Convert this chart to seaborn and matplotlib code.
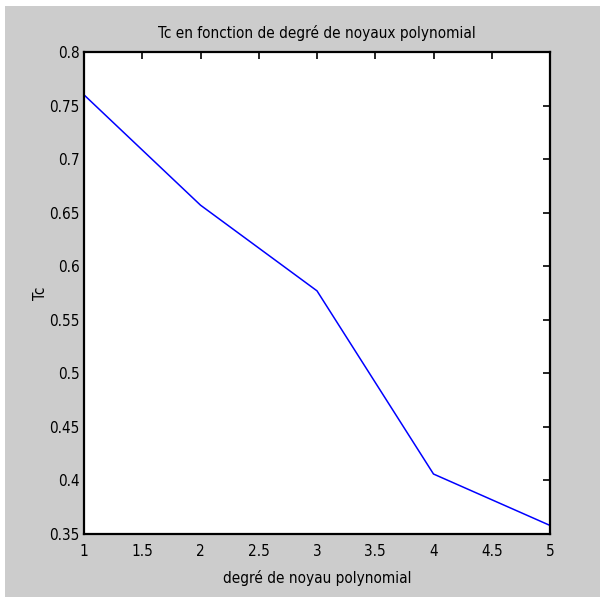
import matplotlib
matplotlib.use("Agg")
import matplotlib.pyplot as plt
from matplotlib.patches import Rectangle
from matplotlib import font_manager
import seaborn as sns
import pandas as pd

# Polynomial kernel degree vs Tc
degree = [1, 2, 3, 4, 5]
tc = [0.760, 0.657, 0.577, 0.406, 0.358]

x_ticks = [1, 1.5, 2, 2.5, 3, 3.5, 4, 4.5, 5]
x_tick_labels = ["1", "1.5", "2", "2.5", "3", "3.5", "4", "4.5", "5"]
y_ticks = [0.35, 0.4, 0.45, 0.5, 0.55, 0.6, 0.65, 0.7, 0.75, 0.8]
y_tick_labels = ["0.35", "0.4", "0.45", "0.5", "0.55", "0.6", "0.65", "0.7", "0.75", "0.8"]

df = pd.DataFrame({"degree": degree, "tc": tc})

sns.set_theme(style="white")

# prefer a condensed sans face when one is available
names = {f.name for f in font_manager.fontManager.ttflist}
condensed = [f for f in font_manager.fontManager.ttflist
             if f.name == "DejaVu Sans" and f.stretch in ("condensed", "semi-condensed", 600)]
if "Liberation Sans Narrow" in names:
    plt.rcParams["font.family"] = ["Liberation Sans Narrow", "DejaVu Sans"]
    fs = 12.5
elif condensed:
    plt.rcParams["font.family"] = ["DejaVu Sans"]
    plt.rcParams["font.stretch"] = "condensed"
    fs = 11
else:
    plt.rcParams["font.family"] = ["Liberation Sans", "DejaVu Sans"]
    fs = 11

W, H = 600, 597
fig = plt.figure(figsize=(W / 100, H / 100), dpi=100, facecolor="white")
# grey figure panel
fig.patches.append(Rectangle((5 / W, 0), 1, 1 - 6 / H, transform=fig.transFigure,
                             facecolor="#cccccc", edgecolor="none", zorder=-10))

left, right, top, bottom = 84, 550, 52, 534
ax = fig.add_axes([left / W, 1 - bottom / H, (right - left) / W, (bottom - top) / H])
ax.set_facecolor("white")

sns.lineplot(data=df, x="degree", y="tc", ax=ax, color="#0000ff", linewidth=1.1)

ax.set_xlim(1, 5)
ax.set_ylim(0.35, 0.8)
ax.set_xticks(x_ticks)
ax.set_xticklabels(x_tick_labels)
ax.set_yticks(y_ticks)
ax.set_yticklabels(y_tick_labels)

ax.tick_params(direction="in", length=5, width=1.2, colors="black",
               labelsize=fs, top=True, right=True)
ax.tick_params(axis="x", pad=7)
ax.tick_params(axis="y", pad=3)
for s in ax.spines.values():
    s.set_visible(True)
    s.set_color("black")
    s.set_linewidth(1.6)

ax.set_title("Tc en fonction de degré de noyaux polynomial", fontsize=fs, pad=10, color="black")
ax.set_xlabel("degré de noyau polynomial", fontsize=fs, labelpad=8, color="black")
ax.set_ylabel("Tc", fontsize=fs, labelpad=1, color="black")

fig.savefig("out.png", dpi=100, facecolor=fig.get_facecolor())
